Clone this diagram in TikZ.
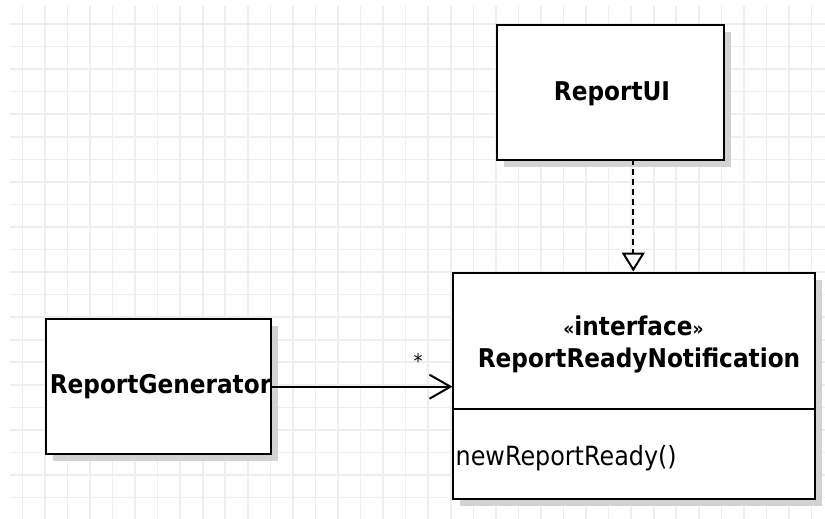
\documentclass[tikz,border=0pt]{standalone}
\usepackage{fontspec}
\usetikzlibrary{arrows.meta,shadows}
\newfontfamily\umlfont[FakeStretch=0.9]{DejaVu Sans}
\definecolor{gridline}{HTML}{EEEEEE}
\definecolor{shadowgray}{HTML}{D2D2D2}
\newcommand{\smallguil}[1]{{\fontsize{19}{20}\selectfont #1}}
\tikzset{
  umlbox/.style={draw=black, line width=2pt, fill=white, inner sep=0pt,
    drop shadow={shadow xshift=7pt, shadow yshift=-7pt, fill=shadowgray, opacity=1}},
  boldlabel/.style={font=\umlfont\bfseries\fontsize{25.8}{30}\selectfont, inner sep=0pt},
  plainlabel/.style={font=\umlfont\fontsize{26.5}{30}\selectfont, inner sep=0pt},
  realizes/.style={line width=2pt, dash pattern=on 6pt off 4pt,
    -{Triangle[open, length=19pt, width=23pt, fill=white, line width=2pt]}},
  navigable/.style={line width=2pt,
    -{Straight Barb[length=21pt, width=24pt, line width=2pt]}}
}
\begin{document}
\begin{tikzpicture}[x=1pt, y=-1pt]
  \useasboundingbox (0,0) rectangle (825,519);
  \fill[white] (0,0) rectangle (825,519);

  % background grid
  \foreach \k in {0,...,35} {
    \pgfmathsetmacro{\gx}{22.3+22.55*\k}
    \ifdim\gx pt<825pt
      \draw[gridline, line width=1.6pt] (\gx,6) -- (\gx,519);
    \fi
  }
  \foreach \k in {0,...,22} {
    \pgfmathsetmacro{\gy}{24+22.55*\k}
    \ifdim\gy pt<519pt
      \draw[gridline, line width=1.6pt] (10,\gy) -- (825,\gy);
    \fi
  }

  % classes
  \node[umlbox, anchor=north west, minimum width=226.7pt, minimum height=135pt] (ui) at (496,24) {};
  \node[boldlabel] (uiname) at (612,94) {ReportUI};

  \node[umlbox, anchor=north west, minimum width=362pt, minimum height=226pt] (rrn) at (452.3,272.3) {};
  \node[boldlabel] (stereo) at (633.5,326) {\smallguil{«}interface\smallguil{»}};
  \node[boldlabel] (rrnname) at (639,360) {ReportReadyNotification};
  \coordinate (divl) at (452.3,409.3);
  \coordinate (divr) at (814.3,409.3);
  \draw[line width=2pt] (divl) -- (divr);
  \node[plainlabel, anchor=west] (op) at (455.5,458) {newReportReady()};

  \node[umlbox, anchor=north west, minimum width=225pt, minimum height=135pt] (gen) at (45,318.3) {};

  % relations
  \coordinate (uibot) at (633.3,159);
  \coordinate (rrntop) at (633.3,271.5);
  \draw[realizes] (uibot) -- (rrntop);

  \coordinate (genright) at (270,386.7);
  \coordinate (rrnleft) at (452.5,386.7);
  \draw[navigable] (genright) -- (rrnleft);
  \node[font=\umlfont\fontsize{20}{22}\selectfont, inner sep=0pt] (mult) at (418,361) {*};

  \node[boldlabel] (genname) at (160.5,387) {ReportGenerator};
\end{tikzpicture}
\end{document}
